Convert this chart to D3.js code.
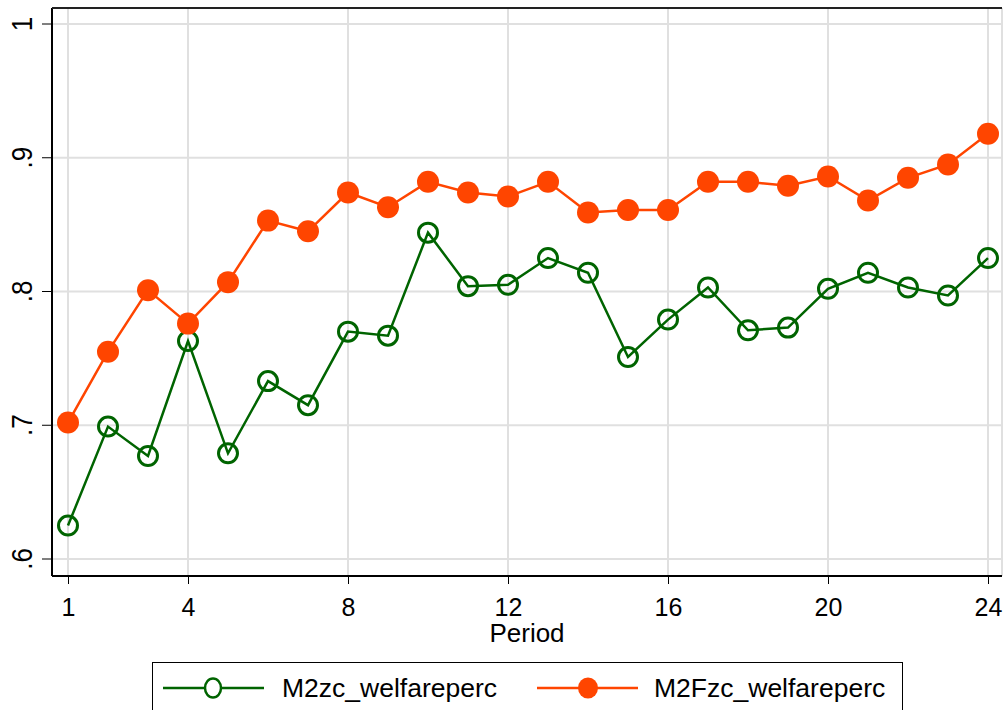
<!DOCTYPE html>
<html>
<head>
<meta charset="utf-8">
<script src="https://cdnjs.cloudflare.com/ajax/libs/d3/7.8.5/d3.min.js"></script>
<style>
    body { margin: 0; background: #fff; }
    text { font-family: "Liberation Sans", Arial, sans-serif; fill: #000; }
</style>
</head>
<body>
<div id="chart"></div>
<script>
// periods and the two series
let periods = d3.range(1, 25);
let m2zc = [0.625, 0.699, 0.677, 0.763, 0.679, 0.733, 0.715, 0.770, 0.767, 0.844, 0.804, 0.805,
            0.825, 0.814, 0.751, 0.779, 0.803, 0.771, 0.773, 0.802, 0.814, 0.803, 0.797, 0.825];
let m2Fzc = [0.702, 0.755, 0.801, 0.776, 0.807, 0.853, 0.845, 0.874, 0.863, 0.882, 0.874, 0.871,
             0.882, 0.859, 0.861, 0.861, 0.882, 0.882, 0.879, 0.886, 0.868, 0.885, 0.895, 0.918];
let xTicks = [1, 4, 8, 12, 16, 20, 24];
let yTicks = [0.6, 0.7, 0.8, 0.9, 1];
let seriesNames = ["M2zc_welfareperc", "M2Fzc_welfareperc"];

let width = 1003, height = 710;
let green = "#006400", orange = "#ff4500";

let svg = d3.select("#chart").append("svg")
    .attr("width", width)
    .attr("height", height);

let x = d3.scaleLinear().domain([1, 24]).range([68, 988]);
let y = d3.scaleLinear().domain([0.6, 1]).range([559, 24]);

let plotLeft = 52, plotTop = 8, plotRight = 1002, plotBottom = 576;

// grid
svg.append("g").selectAll("line")
    .data(yTicks)
    .enter().append("line")
    .attr("x1", plotLeft).attr("x2", plotRight)
    .attr("y1", d => y(d)).attr("y2", d => y(d))
    .attr("stroke", "#e0e0e0").attr("stroke-width", 2);

svg.append("g").selectAll("line")
    .data(xTicks)
    .enter().append("line")
    .attr("y1", plotTop).attr("y2", plotBottom)
    .attr("x1", d => x(d)).attr("x2", d => x(d))
    .attr("stroke", "#e0e0e0").attr("stroke-width", 2);

svg.append("line")
    .attr("x1", plotRight).attr("x2", plotRight)
    .attr("y1", plotTop).attr("y2", plotBottom)
    .attr("stroke", "#e0e0e0").attr("stroke-width", 2);

// axes
let xAxis = svg.append("g")
    .attr("transform", "translate(0," + plotBottom + ")")
    .call(d3.axisBottom(x).tickValues(xTicks).tickSize(8).tickPadding(14).tickFormat(d3.format("d")));
xAxis.select(".domain").attr("d", "M" + plotLeft + ",0H" + plotRight).attr("stroke-width", 2);
xAxis.selectAll("text").style("font-size", "25px");

let yAxis = svg.append("g")
    .attr("transform", "translate(" + plotLeft + ",0)")
    .call(d3.axisLeft(y).tickValues(yTicks).tickSize(10).tickFormat(d => d === 1 ? "1" : d3.format(".1f")(d).replace("0.", ".")));
yAxis.select(".domain").attr("d", "M0," + plotBottom + "V" + plotTop).attr("stroke-width", 2);
yAxis.selectAll(".tick").attr("transform", "translate(0,0)");
yAxis.selectAll(".tick line").attr("y1", d => y(d)).attr("y2", d => y(d)).attr("x2", -10);
yAxis.selectAll(".tick text")
    .style("font-size", "26px")
    .attr("text-anchor", "middle")
    .attr("dy", 0)
    .attr("x", 0)
    .attr("y", 0)
    .attr("transform", d => "translate(-20," + y(d) + ") rotate(-90) scale(1,1.15)");

// top border
svg.append("line")
    .attr("x1", plotLeft).attr("x2", plotRight)
    .attr("y1", plotTop).attr("y2", plotTop)
    .attr("stroke", "#222").attr("stroke-width", 2);

svg.append("text")
    .attr("x", (plotLeft + plotRight) / 2)
    .attr("y", 642)
    .attr("text-anchor", "middle")
    .style("font-size", "26px")
    .text("Period");

// lines
let line = d3.line()
    .x((d, i) => x(periods[i]))
    .y(d => y(d));

svg.append("path").datum(m2zc)
    .attr("d", line).attr("fill", "none")
    .attr("stroke", green).attr("stroke-width", 2.5);

svg.append("path").datum(m2Fzc)
    .attr("d", line).attr("fill", "none")
    .attr("stroke", orange).attr("stroke-width", 2.5);

svg.append("g").selectAll("circle")
    .data(m2zc)
    .enter().append("circle")
    .attr("cx", (d, i) => x(periods[i]))
    .attr("cy", d => y(d))
    .attr("r", 9.5)
    .attr("fill", "none")
    .attr("stroke", green)
    .attr("stroke-width", 3);

svg.append("g").selectAll("circle")
    .data(m2Fzc)
    .enter().append("circle")
    .attr("cx", (d, i) => x(periods[i]))
    .attr("cy", d => y(d))
    .attr("r", 11)
    .attr("fill", orange);

// legend
let legend = svg.append("g");
legend.append("rect")
    .attr("x", 152.5).attr("y", 662.5)
    .attr("width", 750).attr("height", 60)
    .attr("fill", "#fff").attr("stroke", "#000").attr("stroke-width", 1);

let legendItems = [
    { name: seriesNames[0], color: green, x0: 163, x1: 264, cx: 213, tx: 282, filled: false },
    { name: seriesNames[1], color: orange, x0: 537, x1: 638, cx: 588, tx: 654, filled: true }
];
let ly = 688;
legendItems.forEach(function(d) {
    legend.append("line")
        .attr("x1", d.x0).attr("x2", d.x1)
        .attr("y1", ly).attr("y2", ly)
        .attr("stroke", d.color).attr("stroke-width", 2.5);
    legend.append("ellipse")
        .attr("cx", d.cx).attr("cy", ly)
        .attr("rx", d.filled ? 10 : 8).attr("ry", d.filled ? 10.5 : 9.5)
        .attr("fill", d.filled ? d.color : "#fff")
        .attr("stroke", d.color).attr("stroke-width", d.filled ? 0 : 2.5);
    legend.append("text")
        .attr("x", d.tx).attr("y", ly + 9)
        .style("font-size", "26.5px")
        .text(d.name);
});
</script>
</body>
</html>
